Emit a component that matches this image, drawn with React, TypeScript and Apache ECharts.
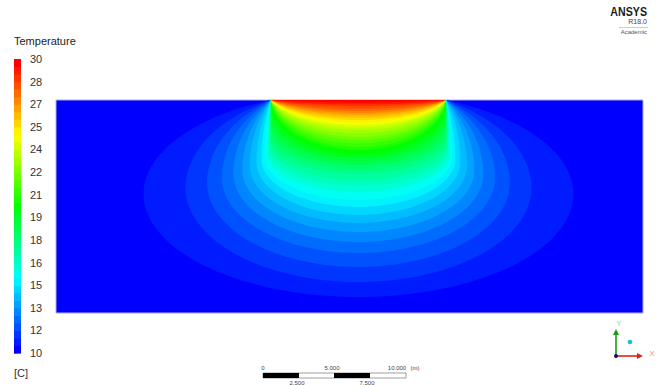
import React, { useEffect, useRef } from 'react';
import * as echarts from 'echarts';

// Contour levels of the temperature field [C] (39 bands from 10 to 30)
const LEVELS = [10.51, 11.03, 11.54, 12.05, 12.56, 13.08, 13.59, 14.10, 14.62, 15.13, 15.64, 16.15, 16.67, 17.18, 17.69, 18.21, 18.72, 19.23, 19.74, 20.26, 20.77, 21.28, 21.79, 22.31, 22.82, 23.33, 23.85, 24.36, 24.87, 25.38, 25.90, 26.41, 26.92, 27.44, 27.95, 28.46, 28.97, 29.49];
// Each isotherm: max half-width [m], depth of its widest point [m] (negative = ellipse centre above surface), depth of its bottom [m]
const HALF_WIDTH = [15.03, 12.10, 10.59, 9.55, 8.74, 8.11, 7.59, 7.13, 6.78, 6.57, 6.40, 6.29, 6.22, 6.17, 6.15, 6.13, 6.126, 6.122, 6.12, 6.12, 6.133, 6.158, 6.189, 6.234, 6.273, 6.315, 6.371, 6.427, 6.476, 6.524, 6.566, 6.594, 6.657, 6.741, 6.832, 6.783, 6.895, 7.336];
const WIDEST_DEPTH = [6.57, 6.15, 5.80, 5.45, 5.17, 4.90, 4.62, 4.34, 4.13, 3.92, 3.71, 3.50, 3.22, 2.87, 2.45, 1.96, 1.40, 0.84, 0.28, -0.085, -0.247, -0.386, -0.502, -0.613, -0.668, -0.687, -0.739, -0.764, -0.767, -0.743, -0.698, -0.621, -0.593, -0.556, -0.506, -0.345, -0.269, -0.215];
const BOTTOM_DEPTH = [13.78, 12.73, 11.68, 10.70, 9.93, 9.23, 8.60, 8.04, 7.48, 6.99, 6.43, 6.01, 5.59, 5.17, 4.83, 4.55, 4.27, 4.06, 3.78, 3.50, 3.29, 3.04, 2.80, 2.59, 2.34, 2.10, 1.92, 1.75, 1.57, 1.40, 1.22, 1.05, 0.91, 0.77, 0.63, 0.45, 0.31, 0.17];

// Heated strip half-width [m] (centred at x = 0); domain extent [m]
const STRIP_HALF = 6.12;
const DOMAIN_X = [-21.15, 19.9];
const DOMAIN_DEPTH = 14.9;

// Colour legend
const LEGEND_MIN = 10;
const LEGEND_BAND_LEVELS = [10, ...LEVELS];
const TICK_LABELS = ['10', '12', '13', '15', '16', '18', '19', '21', '22', '24', '25', '27', '28', '30'];
const RAINBOW = ['#0000ff', '#00ffff', '#00ff00', '#ffff00', '#ff0000'];

const FONT = "'Liberation Sans', Arial, sans-serif";

function contourPoints(a: number, yc: number, d: number): number[][] {
  const H = STRIP_HALF;
  const pts: number[][] = [];
  const N = 40;
  if (yc >= 0) {
    const s = Math.sqrt(Math.max(0, 1 - (H * H) / (a * a)));
    const bLow = d - yc;
    const upper = (sign: number, reverse: boolean) => {
      const arr: number[][] = [];
      if (s < 1e-6) {
        arr.push([sign * a, 0], [sign * a, yc]);
      } else {
        const bUp = yc / s;
        const phiA = Math.asin(s);
        for (let i = 0; i <= N; i++) {
          const phi = phiA * (1 - i / N);
          arr.push([sign * a * Math.cos(phi), yc - bUp * Math.sin(phi)]);
        }
      }
      if (reverse) arr.reverse();
      return arr;
    };
    pts.push(...upper(-1, false));
    for (let i = 0; i <= 2 * N; i++) {
      const t = Math.PI * (1 - i / (2 * N));
      pts.push([a * Math.cos(t), yc + bLow * Math.sin(t)]);
    }
    pts.push(...upper(1, true));
  } else {
    const b = d - yc;
    const t0 = Math.asin(Math.min(1, -yc / b));
    for (let i = 0; i <= 2 * N; i++) {
      const t = (Math.PI - t0) - (Math.PI - 2 * t0) * (i / (2 * N));
      pts.push([a * Math.cos(t), yc + b * Math.sin(t)]);
    }
  }
  return pts;
}

export default function App() {
  const ref = useRef<HTMLDivElement>(null);
  useEffect(() => {
    if (!ref.current) return;
    const chart = echarts.init(ref.current, null, { renderer: 'svg' });
    const contourData = LEVELS.map((lv, i) => [lv, HALF_WIDTH[i], WIDEST_DEPTH[i], BOTTOM_DEPTH[i]]);
    const legendData = LEGEND_BAND_LEVELS.map((lv, j) => [lv, j]);
    const nBands = LEGEND_BAND_LEVELS.length;

    const option: any = {
      animation: false,
      backgroundColor: '#ffffff',
      grid: [
        { left: 56, top: 100, width: 587, height: 213, show: true, backgroundColor: '#0000ff', borderColor: '#aeb0d8', borderWidth: 1 },
        { left: 14, top: 59, width: 7, height: 294, show: false },
      ],
      xAxis: [
        { type: 'value', gridIndex: 0, min: DOMAIN_X[0], max: DOMAIN_X[1], show: false },
        { type: 'value', gridIndex: 1, min: 0, max: 1, show: false },
      ],
      yAxis: [
        { type: 'value', gridIndex: 0, min: 0, max: DOMAIN_DEPTH, inverse: true, show: false },
        {
          type: 'value', gridIndex: 1, min: 0, max: nBands, interval: 3, position: 'right',
          axisLine: { show: false },
          axisTick: { show: true, length: 3, lineStyle: { color: '#b8b8b8', width: 1 } },
          minorTick: { show: true, splitNumber: 3, length: 2, lineStyle: { color: '#cccccc' } },
          splitLine: { show: false },
          axisLabel: {
            margin: 9, fontSize: 11, color: '#333', fontFamily: FONT,
            formatter: (v: number) => TICK_LABELS[Math.round(v / 3)] ?? '',
          },
        },
      ],
      visualMap: {
        show: false, type: 'continuous', dimension: 0, seriesIndex: [0, 1],
        min: LEGEND_MIN, max: LEVELS[LEVELS.length - 1],
        inRange: { color: RAINBOW },
      },
      series: [
        {
          type: 'custom', xAxisIndex: 0, yAxisIndex: 0, clip: true,
          data: contourData,
          encode: { x: 1, y: 3 },
          renderItem: (params: any, api: any) => {
            const a = api.value(1), yc = api.value(2), d = api.value(3);
            const pts = contourPoints(a, yc, d).map((p) => api.coord(p));
            return { type: 'polygon', shape: { points: pts }, style: { fill: api.visual('color'), stroke: null } };
          },
        },
        {
          type: 'custom', xAxisIndex: 1, yAxisIndex: 1,
          data: legendData,
          encode: { y: 1 },
          renderItem: (params: any, api: any) => {
            const j = api.value(1);
            const p1 = api.coord([0, j + 1]);
            const p2 = api.coord([1, j]);
            return {
              type: 'rect',
              shape: { x: p1[0], y: p1[1], width: p2[0] - p1[0], height: p2[1] - p1[1] + 0.6 },
              style: { fill: api.visual('color'), stroke: null },
            };
          },
        },
      ],
      graphic: [
        { type: 'text', left: 14, top: 35, style: { text: 'Temperature', fontSize: 11, fill: '#222', fontFamily: FONT } },
        { type: 'text', left: 14, top: 367, style: { text: '[C]', fontSize: 11, fill: '#333', fontFamily: FONT } },
        // ANSYS logo
        { type: 'text', x: 647, y: 12, scaleX: 0.82, style: { text: 'ANSYS', fontSize: 13, fontWeight: 'bold', fill: '#1a1a1a', fontFamily: FONT, align: 'right', verticalAlign: 'middle' } },
        { type: 'text', x: 647, y: 21, style: { text: 'R18.0', fontSize: 7, fill: '#444', fontFamily: FONT, align: 'right', verticalAlign: 'middle' } },
        { type: 'line', shape: { x1: 619, y1: 27.5, x2: 648, y2: 27.5 }, style: { stroke: '#aaa', lineWidth: 0.6 } },
        { type: 'text', x: 647, y: 32, style: { text: 'Academic', fontSize: 6, fill: '#555', fontFamily: FONT, align: 'right', verticalAlign: 'middle' } },
        // scale bar
        { type: 'rect', shape: { x: 263, y: 373, width: 143, height: 5 }, style: { fill: '#fff', stroke: '#777', lineWidth: 0.7 } },
        { type: 'rect', shape: { x: 263, y: 373, width: 36, height: 5 }, style: { fill: '#000' } },
        { type: 'rect', shape: { x: 334, y: 373, width: 36, height: 5 }, style: { fill: '#000' } },
        { type: 'text', x: 263, y: 368, style: { text: '0', fontSize: 6, fill: '#444', fontFamily: FONT, align: 'center', verticalAlign: 'middle' } },
        { type: 'text', x: 332, y: 368, style: { text: '5.000', fontSize: 6, fill: '#444', fontFamily: FONT, align: 'center', verticalAlign: 'middle' } },
        { type: 'text', x: 397, y: 368, style: { text: '10.000', fontSize: 6, fill: '#444', fontFamily: FONT, align: 'center', verticalAlign: 'middle' } },
        { type: 'text', x: 415, y: 368, style: { text: '(m)', fontSize: 6, fill: '#444', fontFamily: FONT, align: 'center', verticalAlign: 'middle' } },
        { type: 'text', x: 297, y: 383, style: { text: '2.500', fontSize: 6, fill: '#444', fontFamily: FONT, align: 'center', verticalAlign: 'middle' } },
        { type: 'text', x: 367, y: 383, style: { text: '7.500', fontSize: 6, fill: '#444', fontFamily: FONT, align: 'center', verticalAlign: 'middle' } },
        // axis triad
        { type: 'line', shape: { x1: 616, y1: 356, x2: 616, y2: 334 }, style: { stroke: '#1a9a1a', lineWidth: 1.6 } },
        { type: 'polygon', shape: { points: [[613, 335], [619, 335], [616, 329]] }, style: { fill: '#1a9a1a' } },
        { type: 'line', shape: { x1: 616, y1: 356, x2: 638, y2: 356 }, style: { stroke: '#e02020', lineWidth: 1.6 } },
        { type: 'polygon', shape: { points: [[637, 353], [637, 359], [643, 356]] }, style: { fill: '#e02020' } },
        { type: 'circle', shape: { cx: 616, cy: 356, r: 2 }, style: { fill: '#101070' } },
        { type: 'circle', shape: { cx: 630, cy: 342, r: 2.3 }, style: { fill: '#20c0c8' } },
        { type: 'text', x: 619, y: 323, style: { text: 'Y', fontSize: 8, fill: '#9ad29a', fontFamily: FONT, align: 'center', verticalAlign: 'middle' } },
        { type: 'text', x: 652, y: 353, style: { text: 'X', fontSize: 8, fill: '#f29090', fontFamily: FONT, align: 'center', verticalAlign: 'middle' } },
      ],
    };
    chart.setOption(option);
    return () => chart.dispose();
  }, []);
  return <div ref={ref} style={{ position: 'absolute', left: 0, top: 0, width: 659, height: 385, background: '#fff' }} />;
}
